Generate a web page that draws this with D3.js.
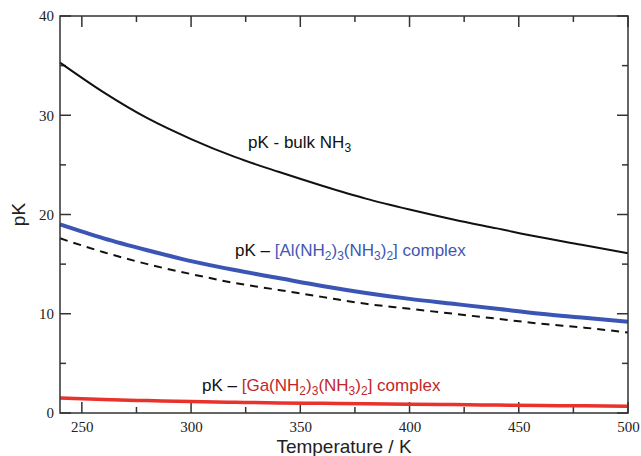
<!DOCTYPE html>
<html lang="en">
<head>
    <meta charset="UTF-8">
    <title>pK vs Temperature</title>
    <script src="https://d3js.org/d3.v7.min.js"></script>
    <style>
        body {
            margin: 0;
            background: #fff;
        }
        .label {
            font-family: "Liberation Sans", Arial, sans-serif;
            font-size: 17px;
        }
    </style>
</head>
<body>

<div id="chart"></div>

<script>
    // temperatures (K)
    const temps = [240, 260, 280, 300, 320, 340, 360, 380, 400, 420, 440, 460, 480, 500];

    // pK values
    const bulkNH3  = [35.3, 32.3, 29.7, 27.6, 25.8, 24.3, 22.9, 21.6, 20.5, 19.5, 18.6, 17.7, 16.9, 16.1];
    const alCmplx  = [19.0, 17.6, 16.4, 15.3, 14.4, 13.6, 12.8, 12.1, 11.5, 11.0, 10.5, 10.0, 9.6, 9.2];
    const dashed   = [17.6, 16.2, 15.0, 14.0, 13.1, 12.4, 11.7, 11.0, 10.5, 10.0, 9.5, 9.0, 8.6, 8.1];
    const gaCmplx  = [1.5, 1.35, 1.25, 1.15, 1.08, 1.02, 0.97, 0.92, 0.88, 0.85, 0.8, 0.75, 0.72, 0.68];

    const xMajor = [250, 300, 350, 400, 450, 500];
    const xMinor = [275, 325, 375, 425, 475];
    const yMajor = [0, 10, 20, 30, 40];
    const yMinor = [5, 15, 25, 35];

    const W = 641, H = 456;
    const m = {top: 16, right: 13, bottom: 43, left: 60};

    const svg = d3.select("#chart").append("svg")
        .attr("width", W).attr("height", H);

    const x = d3.scaleLinear().domain([240, 500]).range([m.left, W - m.right]);
    const y = d3.scaleLinear().domain([0, 40]).range([H - m.bottom, m.top]);

    const axisColor = "#333";
    const x0 = x(240), x1 = x(500), y0 = y(0), y1 = y(40);

    // tick labels through d3 axes (no lines, those come below)
    function styleAxis(g) {
        g.attr("font-family", null).attr("font-size", null);
        g.selectAll("path").remove();
        g.selectAll("line").remove();
        g.selectAll("text")
            .attr("font-family", "'Liberation Serif', 'DejaVu Serif', serif")
            .attr("font-size", 15)
            .attr("fill", "#222");
    }
    svg.append("g").attr("transform", `translate(0,${y0})`)
        .call(d3.axisBottom(x).tickValues(xMajor).tickSize(0).tickPadding(8).tickFormat(d3.format("d")))
        .call(styleAxis);
    svg.append("g").attr("transform", `translate(${x0},0)`)
        .call(d3.axisLeft(y).tickValues(yMajor).tickSize(0).tickPadding(6).tickFormat(d3.format("d")))
        .call(styleAxis);

    // inward ticks on all four sides
    const ticks = svg.append("g").attr("stroke", axisColor).attr("stroke-width", 1.5);
    function xTicks(vals, len) {
        ticks.selectAll(null).data(vals).join("line")
            .attr("x1", d => x(d)).attr("x2", d => x(d))
            .attr("y1", y0).attr("y2", y0 - len);
        ticks.selectAll(null).data(vals).join("line")
            .attr("x1", d => x(d)).attr("x2", d => x(d))
            .attr("y1", y1).attr("y2", y1 + len);
    }
    function yTicks(vals, len) {
        ticks.selectAll(null).data(vals).join("line")
            .attr("y1", d => y(d)).attr("y2", d => y(d))
            .attr("x1", x0).attr("x2", x0 + len);
        ticks.selectAll(null).data(vals).join("line")
            .attr("y1", d => y(d)).attr("y2", d => y(d))
            .attr("x1", x1).attr("x2", x1 - len);
    }
    xTicks(xMajor, 11);
    xTicks(xMinor, 6);
    yTicks(yMajor, 11);
    yTicks(yMinor, 6);

    // the curves
    const line = d3.line()
        .x((d, i) => x(temps[i]))
        .y(d => y(d))
        .curve(d3.curveMonotoneX);

    const plot = svg.append("g");
    plot.append("path").datum(gaCmplx).attr("d", line)
        .attr("fill", "none").attr("stroke", "#e8322b").attr("stroke-width", 3.5);
    plot.append("path").datum(dashed).attr("d", line)
        .attr("fill", "none").attr("stroke", "#111").attr("stroke-width", 2)
        .attr("stroke-dasharray", "8,6");
    plot.append("path").datum(alCmplx).attr("d", line)
        .attr("fill", "none").attr("stroke", "#3b55b4").attr("stroke-width", 4);
    plot.append("path").datum(bulkNH3).attr("d", line)
        .attr("fill", "none").attr("stroke", "#111").attr("stroke-width", 2);

    // frame
    svg.append("rect")
        .attr("x", x0).attr("y", y1)
        .attr("width", x1 - x0).attr("height", y0 - y1)
        .attr("fill", "none").attr("stroke", axisColor).attr("stroke-width", 1.5);

    // axis titles
    svg.append("text").attr("class", "label")
        .attr("x", (x0 + x1) / 2).attr("y", 453)
        .attr("text-anchor", "middle").attr("fill", "#222")
        .style("font-size", "19px")
        .text("Temperature / K");
    svg.append("text").attr("class", "label")
        .attr("transform", `translate(25,${(y0 + y1) / 2}) rotate(-90)`)
        .attr("text-anchor", "middle").attr("fill", "#222")
        .style("font-size", "19px")
        .text("pK");

    // curve labels
    const t1 = svg.append("text").attr("class", "label").attr("x", 248).attr("y", 148).attr("fill", "#111");
    t1.append("tspan").text("pK - bulk NH");
    t1.append("tspan").attr("font-size", "12px").attr("dy", 4).text("3");

    function complexLabel(xp, yp, metal, color) {
        const t = svg.append("text").attr("class", "label").attr("x", xp).attr("y", yp);
        t.append("tspan").attr("fill", "#111").text("pK \u2013 ");
        const parts = ["[" + metal + "(NH", "2", ")", "3", "(NH", "3", ")", "2", "] complex"];
        parts.forEach((p, i) => {
            const s = t.append("tspan").attr("fill", color).text(p);
            if (i % 2 === 1) s.attr("font-size", "12px").attr("dy", 4);
            else if (i > 0) s.attr("dy", -4);
        });
    }
    complexLabel(235, 256, "Al", "#3f57b3");
    complexLabel(202, 391, "Ga", "#c4262a");
</script>

</body>
</html>
